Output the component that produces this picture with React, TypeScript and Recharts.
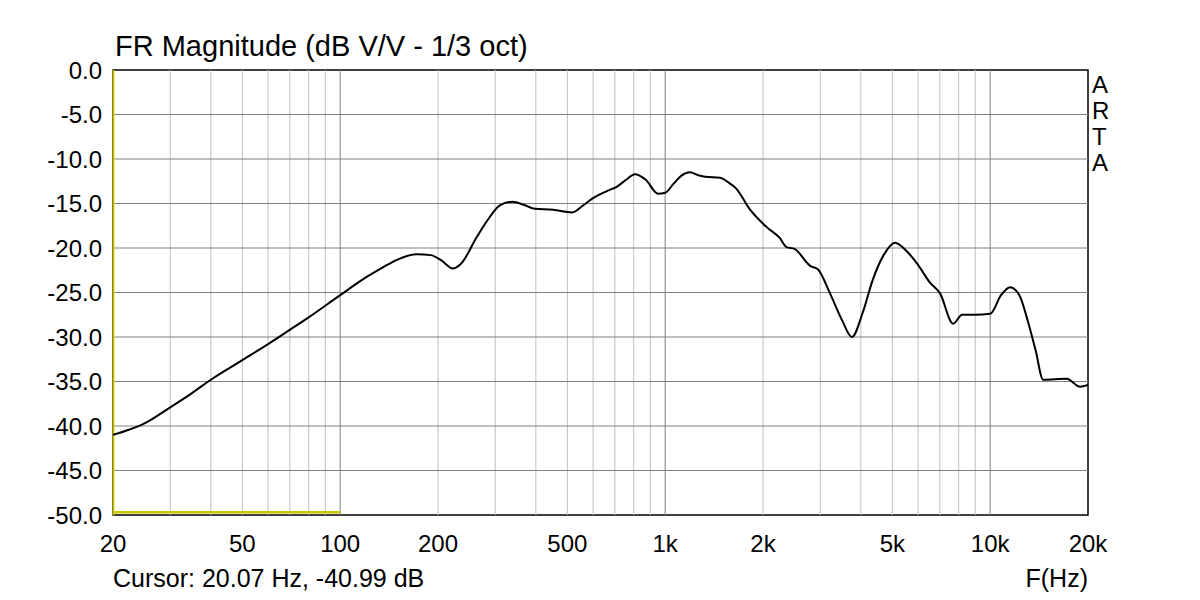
import { LineChart, Line, XAxis, YAxis, ReferenceLine, ReferenceArea } from "recharts";

// FR magnitude, 1/3 oct smoothed
const freqs = [
  20, 22.5, 25, 30, 35, 40, 50, 60, 70, 80, 100, 120, 135, 150, 172, 190, 205, 222, 235, 263, 285, 310,
  339, 370, 397, 452, 517, 560, 600, 662, 711, 760, 807, 870, 951, 1000, 1060, 1120, 1192, 1260,
  1329, 1476, 1560, 1652, 1825, 2044, 2255, 2362, 2500, 2793, 2950, 3215, 3500, 3755, 4050, 4350,
  4700, 5097, 5550, 6000, 6500, 7012, 7690, 8200, 9000, 10000, 10800, 11510, 12300, 13100, 13800,
  14550, 17200, 18900, 20000,
];
const magDb = [
  -41.0, -40.4, -39.7, -37.9, -36.3, -34.8, -32.6, -30.8, -29.2, -27.8, -25.3, -23.3, -22.2, -21.3, -20.7,
  -20.8, -21.4, -22.3, -21.8, -18.8, -16.8, -15.2, -14.8, -15.2, -15.6, -15.7, -16.0, -15.2, -14.4,
  -13.6, -13.1, -12.3, -11.7, -12.3, -13.9, -13.8, -12.8, -11.9, -11.5, -11.8, -12.0, -12.1, -12.6,
  -13.3, -15.7, -17.6, -18.9, -19.9, -20.1, -22.0, -22.4, -25.1, -28.1, -30.0, -27.3, -23.6, -20.8,
  -19.4, -20.4, -21.9, -23.8, -25.1, -28.5, -27.5, -27.5, -27.4, -25.3, -24.4, -25.3, -28.4, -31.5,
  -34.8, -34.7, -35.6, -35.4,
];

// yellow marker (window range) and cursor
const markerFreqs = [20, 100];
const markerDb = [-49.7, -49.7];
const cursorFreq = 20.07;

const xTicks = [20, 50, 100, 200, 500, 1000, 2000, 5000, 10000, 20000];
const yTicks = [0, -5, -10, -15, -20, -25, -30, -35, -40, -45, -50];
const majorFreqs = [100, 1000, 10000];
const minorFreqs = [
  30, 40, 50, 60, 70, 80, 90, 200, 300, 400, 500, 600, 700, 800, 900, 2000, 3000, 4000, 5000, 6000,
  7000, 8000, 9000,
];
const gridDb = [-5, -10, -15, -20, -25, -30, -35, -40, -45];

const data = freqs.map((f, i) => ({ f, db: magDb[i] }));
const markerData = markerFreqs.map((f, i) => ({ f, db: markerDb[i] }));

const FONT = '"Liberation Sans", Arial, sans-serif';

const fmtHz = (v: number) => (v >= 1000 ? `${v / 1000}k` : `${v}`);

export default function App() {
  return (
    <div style={{ position: "fixed", left: 0, top: 0, width: 1200, height: 600, background: "#fff", fontFamily: FONT }}>
      <LineChart
        width={1200}
        height={600}
        data={data}
        margin={{ top: 70, right: 112, bottom: 0, left: 0 }}
      >
        <XAxis
          dataKey="f"
          type="number"
          scale="log"
          domain={[20, 20000]}
          ticks={xTicks}
          tickFormatter={fmtHz}
          allowDataOverflow
          axisLine={false}
          tickLine={false}
          tickSize={6}
          tickMargin={14}
          height={85}
          tick={{ fontSize: 24, fill: "#000", fontFamily: FONT }}
        />
        <YAxis
          type="number"
          domain={[-50, 0]}
          ticks={yTicks}
          tickFormatter={(v: number) => v.toFixed(1)}
          allowDataOverflow
          axisLine={false}
          tickLine={false}
          tickSize={6}
          tickMargin={5}
          width={113}
          tick={{ fontSize: 24, fill: "#000", fontFamily: FONT }}
        />

        {/* minor / major grid */}
        {minorFreqs.map((f) => (
          <ReferenceLine key={`m${f}`} x={f} stroke="#c0c0c0" strokeWidth={1} />
        ))}
        {majorFreqs.map((f) => (
          <ReferenceLine key={`M${f}`} x={f} stroke="#808080" strokeWidth={1} />
        ))}
        {gridDb.map((d) => (
          <ReferenceLine key={`h${d}`} y={d} stroke="#808080" strokeWidth={1} />
        ))}

        <ReferenceLine x={cursorFreq} stroke="#c8c800" strokeWidth={2} />

        <Line
          data={markerData}
          dataKey="db"
          type="linear"
          stroke="#c8c800"
          strokeWidth={2.5}
          dot={false}
          isAnimationActive={false}
        />
        <Line
          dataKey="db"
          type="monotone"
          stroke="#000"
          strokeWidth={2}
          dot={false}
          isAnimationActive={false}
        />

        <ReferenceArea x1={20} x2={20000} y1={-50} y2={0} fill="none" fillOpacity={0} stroke="#000" strokeWidth={1.5} />
      </LineChart>

      <div style={{ position: "absolute", left: 115, top: 30, fontSize: 29, color: "#000", whiteSpace: "nowrap" }}>
        FR Magnitude (dB V/V - 1/3 oct)
      </div>
      <div style={{ position: "absolute", left: 1092, top: 72, fontSize: 24, lineHeight: "26px", color: "#000", width: 20 }}>
        A<br />R<br />T<br />A
      </div>
      <div style={{ position: "absolute", left: 113, top: 564, fontSize: 25, color: "#000", whiteSpace: "nowrap" }}>
        Cursor: 20.07 Hz, -40.99 dB
      </div>
      <div style={{ position: "absolute", right: 112, top: 564, fontSize: 25, color: "#000", whiteSpace: "nowrap" }}>
        F(Hz)
      </div>
    </div>
  );
}
